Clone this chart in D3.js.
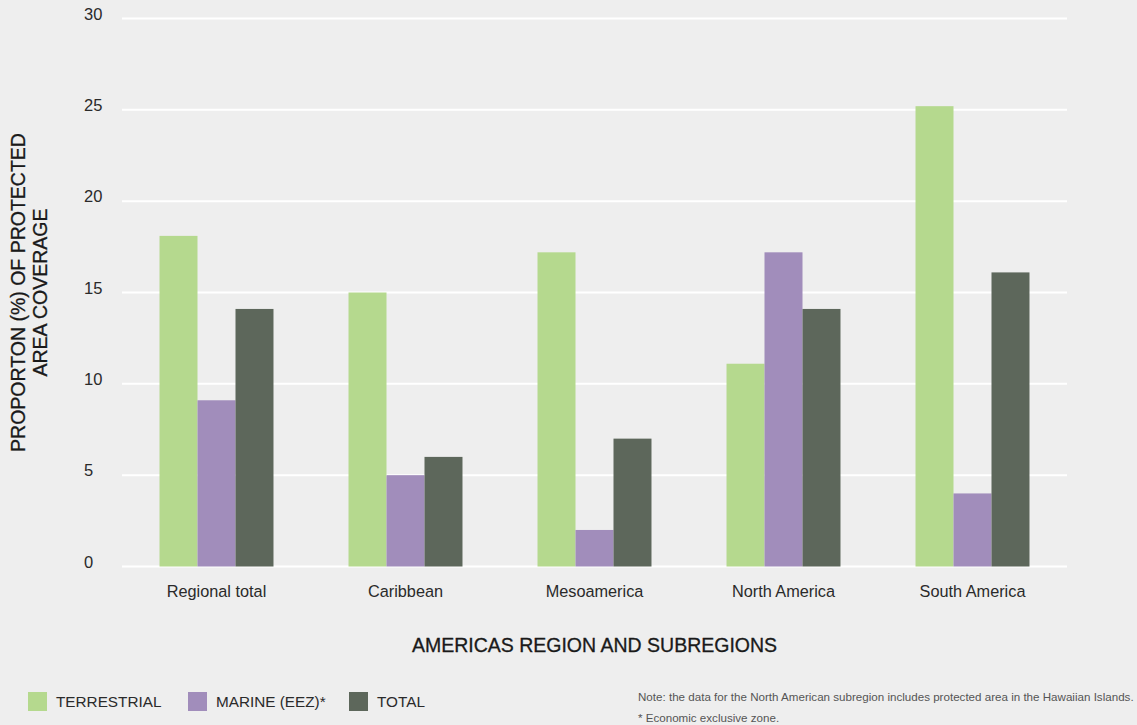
<!DOCTYPE html>
<html>
<head>
<meta charset="utf-8">
<script src="https://cdn.jsdelivr.net/npm/d3@7"></script>
<style>
  html, body { margin: 0; padding: 0; background: #eeeeee; }
  svg { display: block; font-family: "Liberation Sans", Arial, Helvetica, sans-serif; }
</style>
</head>
<body>
<svg id="chart" width="1137" height="725"></svg>
<script>
const categories = ["Regional total", "Caribbean", "Mesoamerica", "North America", "South America"];
const seriesNames = ["TERRESTRIAL", "MARINE (EEZ)*", "TOTAL"];
const terrestrial = [18.1, 15.0, 17.2, 11.1, 25.2];
const marine = [9.1, 5.0, 2.0, 17.2, 4.0];
const total = [14.1, 6.0, 7.0, 14.1, 16.1];
const yTicks = [0, 5, 10, 15, 20, 25, 30];
const colors = ["#b5d98e", "#a18dbb", "#5d675b"];

const seriesValues = [terrestrial, marine, total];
const svg = d3.select("#chart");

const plotLeft = 122, plotRight = 1067, plotTop = 18.5, plotBottom = 566.5;

const x0 = d3.scaleBand().domain(categories).range([plotLeft, plotRight])
  .paddingInner(0.397).paddingOuter(0.1985);
const x1 = d3.scaleBand().domain(seriesNames).range([0, x0.bandwidth()]).padding(0);
const y = d3.scaleLinear().domain([0, 30]).range([plotBottom, plotTop]);

// gridlines
svg.append("g").selectAll("line").data(yTicks).join("line")
  .attr("x1", plotLeft).attr("x2", plotRight)
  .attr("y1", d => y(d)).attr("y2", d => y(d))
  .attr("stroke", "#ffffff").attr("stroke-width", 2);

// y tick labels
svg.append("g").selectAll("text").data(yTicks).join("text")
  .attr("x", 84).attr("y", d => y(d) + 1)
  .attr("font-size", 16.5).attr("fill", "#2a2a2a")
  .text(d => d);

// bars
const groups = svg.append("g").selectAll("g").data(categories).join("g")
  .attr("transform", d => `translate(${x0(d)},0)`);
groups.selectAll("rect")
  .data((d, i) => seriesNames.map((s, j) => ({ s, j, v: seriesValues[j][i] })))
  .join("rect")
  .attr("x", d => x1(d.s))
  .attr("width", x1.bandwidth())
  .attr("y", d => y(d.v))
  .attr("height", d => y(0) - y(d.v))
  .attr("fill", d => colors[d.j]);

// x category labels
svg.append("g").selectAll("text").data(categories).join("text")
  .attr("x", d => x0(d) + x0.bandwidth() / 2)
  .attr("y", 597)
  .attr("text-anchor", "middle")
  .attr("font-size", 16.3).attr("fill", "#2a2a2a")
  .text(d => d);

// x title
svg.append("text")
  .attr("x", (plotLeft + plotRight) / 2).attr("y", 652)
  .attr("text-anchor", "middle")
  .attr("font-size", 19.5).attr("fill", "#1a1a1a")
  .attr("stroke", "#1a1a1a").attr("stroke-width", 0.3)
  .text("AMERICAS REGION AND SUBREGIONS");

// y title
const yt = svg.append("text")
  .attr("transform", `translate(0,${(plotTop + plotBottom) / 2}) rotate(-90)`)
  .attr("text-anchor", "middle")
  .attr("font-size", 19.5).attr("fill", "#1a1a1a")
  .attr("stroke", "#1a1a1a").attr("stroke-width", 0.3);
yt.append("tspan").attr("x", 0).attr("y", 25).text("PROPORTON (%) OF PROTECTED");
yt.append("tspan").attr("x", 0).attr("y", 47).text("AREA COVERAGE");

// legend
const legendX = [28, 188, 349];
const lg = svg.append("g").selectAll("g").data(seriesNames).join("g")
  .attr("transform", (d, i) => `translate(${legendX[i]},692)`);
lg.append("rect").attr("width", 19).attr("height", 19).attr("fill", (d, i) => colors[i]);
lg.append("text").attr("x", 28).attr("y", 15)
  .attr("font-size", 15.3).attr("fill", "#2a2a2a").text(d => d);

// notes
svg.append("text").attr("x", 638).attr("y", 701)
  .attr("font-size", 11.6).attr("fill", "#555")
  .text("Note: the data for the North American subregion includes protected area in the Hawaiian Islands.");
svg.append("text").attr("x", 638).attr("y", 722)
  .attr("font-size", 11.6).attr("fill", "#555")
  .text("* Economic exclusive zone.");
</script>
</body>
</html>
